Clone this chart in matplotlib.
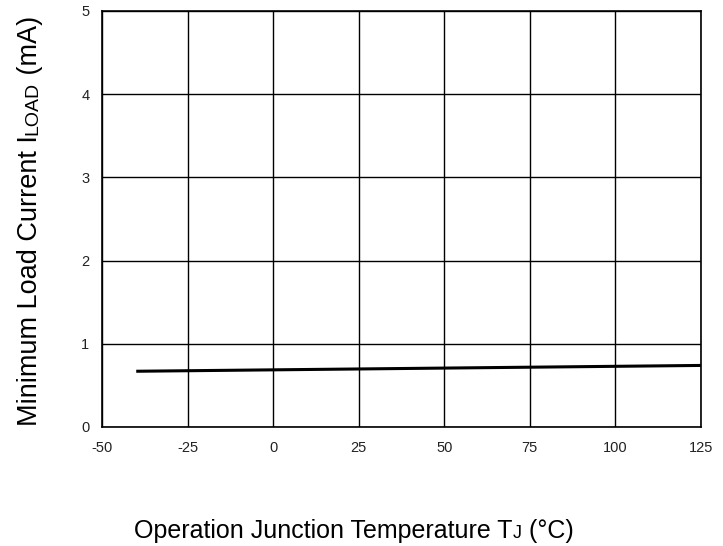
import matplotlib

matplotlib.use("Agg")
import matplotlib.pyplot as plt

# minimum load current vs junction temperature
temp_c = [-40, 125]
i_load_ma = [0.67, 0.74]

x_ticks = [-50, -25, 0, 25, 50, 75, 100, 125]
y_ticks = [0, 1, 2, 3, 4, 5]

plt.rcParams["font.family"] = ["Liberation Sans", "DejaVu Sans"]

W, H = 723, 546
fig = plt.figure(figsize=(W / 100, H / 100), dpi=100)
ax = fig.add_axes([102 / W, 1 - 427 / H, (701 - 102) / W, (427 - 11) / H])

ax.plot(temp_c, i_load_ma, color="black", lw=2.2, solid_capstyle="butt")
ax.set_xlim(-50, 125)
ax.set_ylim(0, 5)
ax.set_xticks(x_ticks)
ax.set_yticks(y_ticks)
ax.set_xticklabels([str(v) for v in x_ticks], fontsize=10.5, color="#222222")
ax.set_yticklabels([str(v) for v in y_ticks], fontsize=10.5, color="#222222")
ax.tick_params(length=0, pad=9)
ax.tick_params(axis="x", pad=10)
ax.grid(True, color="black", lw=1.0)
for s in ax.spines.values():
    s.set_linewidth(1.2)

fig.canvas.draw()
r = fig.canvas.get_renderer()


def chain(parts, x0, y0, vertical):
    # lay text pieces one after another on a common baseline, in pixels
    arts = []
    pos = 0.0
    for txt, size in parts:
        t = fig.text(0, 0, txt, fontsize=size, rotation=90 if vertical else 0,
                     rotation_mode="anchor", ha="left", va="baseline",
                     transform=None)
        bb = t.get_window_extent(r)
        arts.append((t, pos))
        pos += bb.height if vertical else bb.width
    for t, p in arts:
        if vertical:
            t.set_position((x0, y0 - pos / 2 + p))
        else:
            t.set_position((x0 - pos / 2 + p, y0))


# pixel coords here are from the bottom of the figure
chain([("Minimum Load Current I", 19.5), ("LOAD", 14), (" (mA)", 19.5)],
      37, H - 221, True)
chain([("Operation Junction Temperature T", 18), ("J", 13), (" (°C)", 18)],
      354, H - 538, False)

fig.savefig("out.png", dpi=100)
